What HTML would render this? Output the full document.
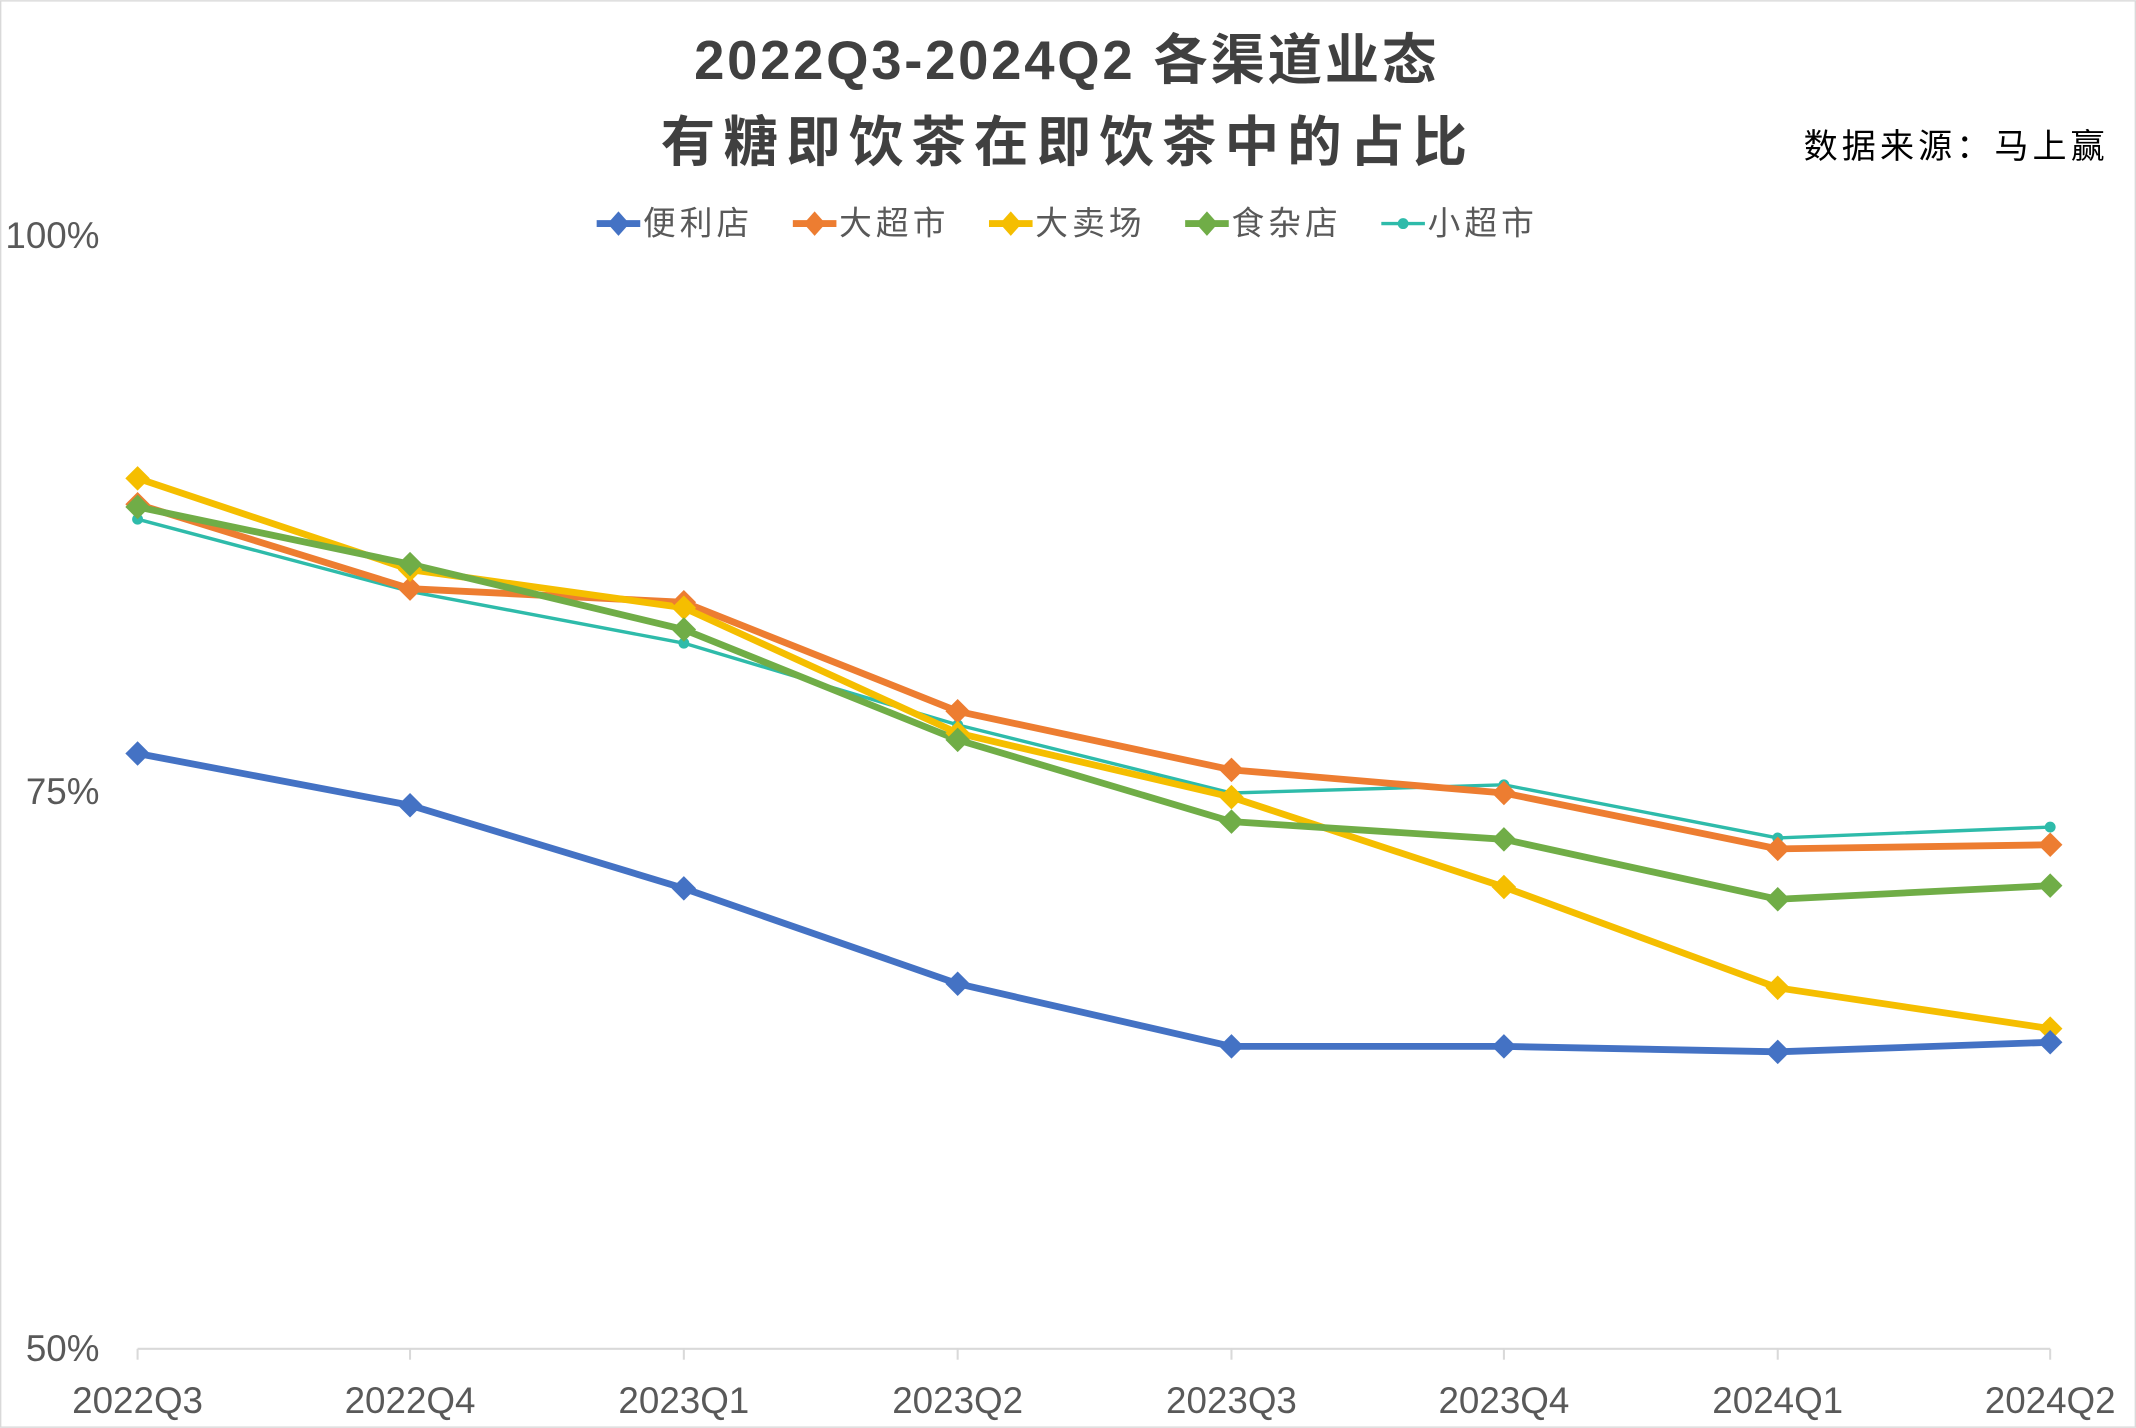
<!DOCTYPE html>
<html><head><meta charset="utf-8"><style>html,body{margin:0;padding:0;background:#fff}svg{display:block}</style></head>
<body>
<svg width="2136" height="1428" viewBox="0 0 1568 1048" xmlns="http://www.w3.org/2000/svg" font-family="'Liberation Sans','Noto Sans CJK SC',sans-serif">
<rect x="0.5" y="0.5" width="1567" height="1047" fill="#fff" stroke="#d9d9d9"/>
<text x="783" y="58" text-anchor="middle" font-size="40" font-weight="bold" fill="#404040" font-family="'Liberation Sans','Noto Sans CJK SC',sans-serif" letter-spacing="2">2022Q3-2024Q2 各渠道业态</text>
<text x="784" y="118" text-anchor="middle" font-size="40" font-weight="bold" fill="#404040" font-family="'Noto Sans CJK SC',sans-serif" letter-spacing="6">有糖即饮茶在即饮茶中的占比</text>
<text x="1548" y="116" text-anchor="end" font-size="25" fill="#000" font-family="'Noto Sans CJK SC',sans-serif" letter-spacing="3">数据来源：马上赢</text>
<g font-size="24" fill="#595959" font-family="'Noto Sans CJK SC',sans-serif" letter-spacing="3">
<line x1="438" y1="164" x2="470" y2="164" stroke="#4472C4" stroke-width="5"/><path d="M454 155l8 9-8 9-8-9z" fill="#4472C4"/><text x="472" y="172">便利店</text>
<line x1="582" y1="164" x2="614" y2="164" stroke="#ED7D31" stroke-width="5"/><path d="M598 155l8 9-8 9-8-9z" fill="#ED7D31"/><text x="616" y="172">大超市</text>
<line x1="726" y1="164" x2="758" y2="164" stroke="#F5BE00" stroke-width="5"/><path d="M742 155l8 9-8 9-8-9z" fill="#F5BE00"/><text x="760" y="172">大卖场</text>
<line x1="870" y1="164" x2="902" y2="164" stroke="#70AD47" stroke-width="5"/><path d="M886 155l8 9-8 9-8-9z" fill="#70AD47"/><text x="904" y="172">食杂店</text>
<line x1="1014" y1="164" x2="1046" y2="164" stroke="#2EBBAA" stroke-width="2.5"/><circle cx="1030" cy="164" r="4" fill="#2EBBAA"/><text x="1048" y="172">小超市</text>
</g>
<g font-size="27" fill="#595959" font-family="'Liberation Sans Narrow','Liberation Sans',sans-serif">
<text x="73" y="182" text-anchor="end">100%</text>
<text x="73" y="590" text-anchor="end">75%</text>
<text x="73" y="999" text-anchor="end">50%</text>
</g>
<g stroke="#d9d9d9" stroke-width="1.5">
<line x1="101" y1="990" x2="1505" y2="990"/>
<line x1="101" y1="990" x2="101" y2="998"/><line x1="301" y1="990" x2="301" y2="998"/><line x1="502" y1="990" x2="502" y2="998"/><line x1="703" y1="990" x2="703" y2="998"/><line x1="904" y1="990" x2="904" y2="998"/><line x1="1104" y1="990" x2="1104" y2="998"/><line x1="1305" y1="990" x2="1305" y2="998"/><line x1="1505" y1="990" x2="1505" y2="998"/>
</g>
<g font-size="27" fill="#595959" text-anchor="middle" font-family="'Liberation Sans Narrow','Liberation Sans',sans-serif">
<text x="101" y="1037">2022Q3</text><text x="301" y="1037">2022Q4</text><text x="502" y="1037">2023Q1</text><text x="703" y="1037">2023Q2</text><text x="904" y="1037">2023Q3</text><text x="1104" y="1037">2023Q4</text><text x="1305" y="1037">2024Q1</text><text x="1505" y="1037">2024Q2</text>
</g>
<defs><path id="d" d="M0 -9l9 9-9 9-9-9z"/></defs>
<g fill="none" stroke-linejoin="round">
<polyline stroke="#2EBBAA" stroke-width="2.5" points="101,381 301,434 502,472 703,532 904,582 1104,576 1305,615 1505,607"/>
<polyline stroke="#ED7D31" stroke-width="5" points="101,370 301,432 502,442 703,522 904,565 1104,582 1305,623 1505,620"/>
<polyline stroke="#F5BE00" stroke-width="5" points="101,351 301,418 502,446 703,538 904,585 1104,651 1305,725 1505,755"/>
<polyline stroke="#70AD47" stroke-width="5" points="101,372 301,414 502,462 703,543 904,603 1104,616 1305,660 1505,650"/>
<polyline stroke="#4472C4" stroke-width="5" points="101,553 301,591 502,652 703,722 904,768 1104,768 1305,772 1505,765"/>
</g>
<g fill="#2EBBAA"><circle cx="101" cy="381" r="4"/><circle cx="301" cy="434" r="4"/><circle cx="502" cy="472" r="4"/><circle cx="703" cy="532" r="4"/><circle cx="904" cy="582" r="4"/><circle cx="1104" cy="576" r="4"/><circle cx="1305" cy="615" r="4"/><circle cx="1505" cy="607" r="4"/></g>
<g fill="#ED7D31"><use href="#d" x="101" y="370"/><use href="#d" x="301" y="432"/><use href="#d" x="502" y="442"/><use href="#d" x="703" y="522"/><use href="#d" x="904" y="565"/><use href="#d" x="1104" y="582"/><use href="#d" x="1305" y="623"/><use href="#d" x="1505" y="620"/></g>
<g fill="#F5BE00"><use href="#d" x="101" y="351"/><use href="#d" x="301" y="418"/><use href="#d" x="502" y="446"/><use href="#d" x="703" y="538"/><use href="#d" x="904" y="585"/><use href="#d" x="1104" y="651"/><use href="#d" x="1305" y="725"/><use href="#d" x="1505" y="755"/></g>
<g fill="#70AD47"><use href="#d" x="101" y="372"/><use href="#d" x="301" y="414"/><use href="#d" x="502" y="462"/><use href="#d" x="703" y="543"/><use href="#d" x="904" y="603"/><use href="#d" x="1104" y="616"/><use href="#d" x="1305" y="660"/><use href="#d" x="1505" y="650"/></g>
<g fill="#4472C4"><use href="#d" x="101" y="553"/><use href="#d" x="301" y="591"/><use href="#d" x="502" y="652"/><use href="#d" x="703" y="722"/><use href="#d" x="904" y="768"/><use href="#d" x="1104" y="768"/><use href="#d" x="1305" y="772"/><use href="#d" x="1505" y="765"/></g>
</svg>
</body></html>
